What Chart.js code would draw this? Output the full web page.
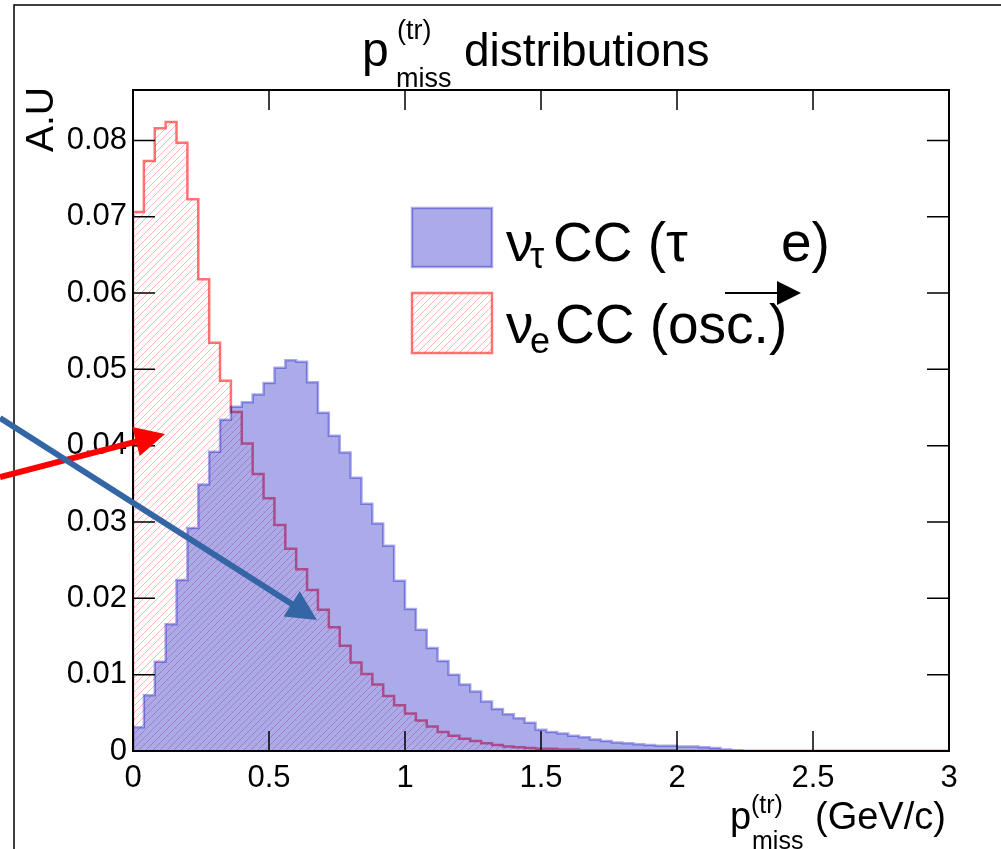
<!DOCTYPE html>
<html>
<head>
<meta charset="utf-8">
<script src="https://cdn.jsdelivr.net/npm/chart.js@4/dist/chart.umd.min.js"></script>
<style>
  html, body { margin: 0; padding: 0; background: #fff; }
  canvas { display: block; }
</style>
</head>
<body>
<canvas id="pmissChart" width="1001" height="849" style="width:1001px;height:849px"></canvas>
<script>
// binning of the p_miss^(tr) histograms (GeV/c)
const xMin = 0;
const xMax = 3;
const binWidth = 0.04;

// nu_e CC (oscillated), normalised
const nueCC = [
    0.0706, 0.0773, 0.0816, 0.0824, 0.0797, 0.0723, 0.0618, 0.0535, 0.0485, 0.0444,
    0.0403, 0.0363, 0.0331, 0.0296, 0.0265, 0.0238, 0.0211, 0.0185, 0.0162, 0.0138,
    0.0116, 0.0101, 0.0087, 0.0072, 0.0060, 0.0049, 0.0040, 0.0032, 0.0025, 0.0020,
    0.0016, 0.0013, 0.0010, 0.0008, 0.0006, 0.0005, 0.0004, 0.0003, 0.0003, 0.0002,
    0.0002, 0.0001, 0.0001, 0.0001, 0.0001, 0.0001, 0.0001, 0.0001, 0.0001, 0.0001,
    0, 0, 0, 0, 0, 0, 0, 0, 0, 0,
    0, 0, 0, 0, 0, 0, 0, 0, 0, 0,
    0, 0, 0, 0, 0
];

// nu_tau CC (tau -> e), normalised
const nutauCC = [
    0.0031, 0.0073, 0.0117, 0.0166, 0.0224, 0.0292, 0.0349, 0.0392, 0.0434, 0.0451,
    0.0457, 0.0467, 0.0482, 0.0502, 0.0512, 0.0510, 0.0483, 0.0443, 0.0413, 0.0391,
    0.0358, 0.0324, 0.0298, 0.0269, 0.0223, 0.0186, 0.0159, 0.0135, 0.0118, 0.0100,
    0.0087, 0.0078, 0.0065, 0.0055, 0.0048, 0.0043, 0.0037, 0.0028, 0.0025, 0.0023,
    0.0020, 0.0018, 0.0015, 0.0013, 0.0011, 0.0010, 0.0009, 0.0008, 0.0007, 0.0007,
    0.0006, 0.0006, 0.0005, 0.0004, 0.0002, 0.0001, 0, 0, 0, 0,
    0, 0, 0, 0, 0, 0, 0, 0, 0, 0,
    0, 0, 0, 0, 0
];

const yMax = 0.0866;
const xTickStep = 0.5;
const yTickStep = 0.01;

const FONT = '"Liberation Sans", Arial, Helvetica, sans-serif';
const BLUE = 'rgba(0, 0, 190, 0.33)';
const RED_LINE = 'rgba(255, 0, 0, 0.55)';

// turn bin contents into a step outline starting at zero
function histPoints(values) {
    const pts = [{ x: xMin, y: 0 }];
    values.forEach((v, i) => pts.push({ x: xMin + i * binWidth, y: v }));
    pts.push({ x: xMax, y: values[values.length - 1] });
    return pts;
}

// "/" hatch for the nu_e histogram, built pixel by pixel on a white tile
function makeHatch() {
    const n = 7;
    const c = document.createElement('canvas');
    c.width = n; c.height = n;
    const g = c.getContext('2d');
    const img = g.createImageData(n, n);
    for (let y = 0; y < n; y++) {
        for (let x = 0; x < n; x++) {
            const k = (y * n + x) * 4;
            const on = (x + y) % n === n - 1;
            img.data[k] = 255;
            img.data[k + 1] = on ? 185 : 255;
            img.data[k + 2] = on ? 185 : 255;
            img.data[k + 3] = 255;
        }
    }
    g.putImageData(img, 0, 0);
    return g.createPattern(c, 'repeat');
}
const hatch = makeHatch();

function text(ctx, s, x, y, size, align) {
    ctx.font = size + 'px ' + FONT;
    ctx.textAlign = align || 'left';
    ctx.textBaseline = 'alphabetic';
    ctx.fillText(s, x, y);
}

function arrow(ctx, x0, y0, x1, y1, color, width, headLen, headHalf) {
    const a = Math.atan2(y1 - y0, x1 - x0);
    const bx = x1 - headLen * Math.cos(a), by = y1 - headLen * Math.sin(a);
    ctx.save();
    ctx.strokeStyle = color;
    ctx.fillStyle = color;
    ctx.lineWidth = width;
    ctx.beginPath();
    ctx.moveTo(x0, y0);
    ctx.lineTo(bx + 2 * Math.cos(a), by + 2 * Math.sin(a));
    ctx.stroke();
    ctx.beginPath();
    ctx.moveTo(x1, y1);
    ctx.lineTo(bx - headHalf * Math.sin(a), by + headHalf * Math.cos(a));
    ctx.lineTo(bx + headHalf * Math.sin(a), by - headHalf * Math.cos(a));
    ctx.closePath();
    ctx.fill();
    ctx.restore();
}

// frame, inward ticks, titles, legend and annotation arrows
const decor = {
    id: 'decor',
    afterDraw(chart) {
        const ctx = chart.ctx;
        const area = chart.chartArea;
        const xs = chart.scales.x, ys = chart.scales.y;
        ctx.save();

        // pad border
        ctx.strokeStyle = '#000';
        ctx.lineWidth = 1.5;
        ctx.beginPath();
        ctx.moveTo(14, 849); ctx.lineTo(14, 5); ctx.lineTo(1001, 5);
        ctx.stroke();

        // ticks on all four sides
        ctx.lineWidth = 1.5;
        ctx.beginPath();
        xs.ticks.forEach(t => {
            const px = xs.getPixelForValue(t.value);
            ctx.moveTo(px, area.bottom); ctx.lineTo(px, area.bottom - 20);
            ctx.moveTo(px, area.top); ctx.lineTo(px, area.top + 20);
        });
        ys.ticks.forEach(t => {
            const py = ys.getPixelForValue(t.value);
            ctx.moveTo(area.left, py); ctx.lineTo(area.left + 22, py);
            ctx.moveTo(area.right, py); ctx.lineTo(area.right - 22, py);
        });
        ctx.stroke();

        // frame
        ctx.lineWidth = 2;
        ctx.strokeRect(area.left, area.top, area.right - area.left, area.bottom - area.top);

        ctx.fillStyle = '#000';
        // title
        text(ctx, 'p', 362, 66, 48);
        text(ctx, '(tr)', 397, 39, 27);
        text(ctx, 'miss', 396, 87, 27);
        text(ctx, 'distributions', 464, 66, 46);

        // x axis title
        text(ctx, 'p', 730, 829, 38);
        text(ctx, '(tr)', 751, 813, 25);
        text(ctx, 'miss', 752, 849, 25);
        text(ctx, '(GeV/c)', 815, 829, 38);

        // y axis title
        ctx.save();
        ctx.translate(53, 87);
        ctx.rotate(-Math.PI / 2);
        text(ctx, 'A.U', 0, 0, 39, 'right');
        ctx.restore();

        // legend boxes
        ctx.fillStyle = BLUE;
        ctx.fillRect(412, 208, 80, 59);
        ctx.strokeStyle = BLUE;
        ctx.lineWidth = 2.5;
        ctx.strokeRect(412, 208, 80, 59);
        ctx.fillStyle = hatch;
        ctx.fillRect(412, 293, 80, 60);
        ctx.strokeStyle = RED_LINE;
        ctx.strokeRect(412, 293, 80, 60);

        // legend labels
        ctx.fillStyle = '#000';
        text(ctx, 'ν', 506, 261, 55);
        text(ctx, 'τ', 530, 268, 36);
        text(ctx, 'CC (τ', 553, 261, 55);
        text(ctx, 'e)', 781, 261, 55);
        text(ctx, 'ν', 506, 343, 55);
        text(ctx, 'e', 530, 353, 36);
        text(ctx, 'CC (osc.)', 555, 343, 55);

        // annotation arrows
        arrow(ctx, 725, 293, 801, 293, '#000', 2, 24, 12);
        arrow(ctx, 0, 477, 165, 434, '#ff0000', 6, 30, 15);
        arrow(ctx, 0, 418, 317, 620, '#3465a4', 6, 30, 15);

        ctx.restore();
    }
};

new Chart(document.getElementById('pmissChart').getContext('2d'), {
    type: 'line',
    data: {
        datasets: [
            {
                label: 'ντCC (τ → e)',
                data: histPoints(nutauCC),
                stepped: 'before',
                borderColor: BLUE,
                backgroundColor: BLUE,
                borderWidth: 2.5,
                fill: 'origin',
                pointRadius: 0
            },
            {
                label: 'νeCC (osc.)',
                data: histPoints(nueCC),
                stepped: 'before',
                borderColor: RED_LINE,
                backgroundColor: hatch,
                borderWidth: 2.5,
                fill: 'origin',
                pointRadius: 0
            }
        ]
    },
    options: {
        responsive: false,
        devicePixelRatio: 1,
        animation: false,
        layout: { padding: { top: 90, right: 52, left: 0, bottom: 0 } },
        plugins: {
            legend: { display: false },
            title: { display: false },
            tooltip: { enabled: false }
        },
        scales: {
            x: {
                type: 'linear',
                min: xMin,
                max: xMax,
                grid: { display: false, drawTicks: false },
                border: { display: false },
                ticks: {
                    stepSize: xTickStep,
                    color: '#000',
                    padding: 9,
                    maxRotation: 0,
                    autoSkip: false,
                    font: { family: FONT, size: 31 },
                    callback: v => String(Math.round(v * 100) / 100)
                },
                afterFit(scale) { scale.height = 98; }
            },
            y: {
                min: 0,
                max: yMax,
                grid: { display: false, drawTicks: false },
                border: { display: false },
                ticks: {
                    stepSize: yTickStep,
                    includeBounds: false,
                    color: '#000',
                    padding: 6,
                    font: { family: FONT, size: 31 },
                    callback: v => String(Math.round(v * 1000) / 1000)
                },
                afterFit(scale) { scale.width = 133; }
            }
        }
    },
    plugins: [decor]
});
</script>
</body>
</html>
